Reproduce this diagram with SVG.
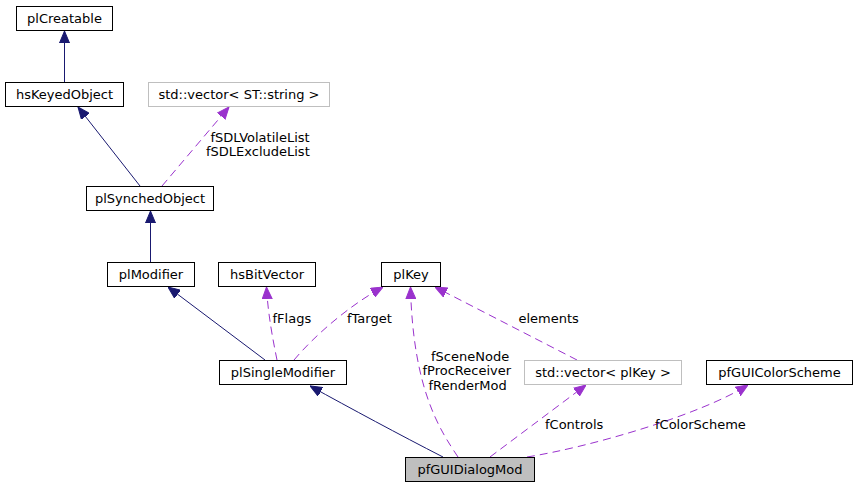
<svg xmlns="http://www.w3.org/2000/svg" width="857" height="489" viewBox="0 0 857 489">
<style>
.n rect{fill:#fff;stroke:#000;stroke-width:1}
.n.g rect{stroke:#bfbfbf}
.n.m rect{fill:#bfbfbf}
text{font-family:"DejaVu Sans","Liberation Sans",sans-serif;font-size:13px;fill:#000}
.n text{text-anchor:middle}
.inh{fill:none;stroke:#191970;stroke-width:1}
.use{fill:none;stroke:#9a32cd;stroke-width:1;stroke-dasharray:8,5}
</style>
<defs>
<marker id="an" markerUnits="userSpaceOnUse" viewBox="0 -5.5 12 11" refX="12" refY="0" markerWidth="12" markerHeight="11" orient="auto">
<path d="M0,-5 L12,0 L0,5 z" fill="#191970" stroke="#191970" stroke-width="1"/>
</marker>
<marker id="ap" markerUnits="userSpaceOnUse" viewBox="0 -5.5 12 11" refX="12" refY="0" markerWidth="12" markerHeight="11" orient="auto">
<path d="M0,-5 L12,0 L0,5 z" fill="#9a32cd" stroke="#9a32cd" stroke-width="1"/>
</marker>
</defs>
<g id="connectors">
<path class="inh" d="M64.5,82 L64.5,31" marker-end="url(#an)"/>
<path class="inh" d="M140,186 L78,107" marker-end="url(#an)"/>
<path class="inh" d="M150.5,262 L150.5,211" marker-end="url(#an)"/>
<path class="inh" d="M265,360 L168,287" marker-end="url(#an)"/>
<path class="inh" d="M443,457 C 400,435 350,408 310,386" marker-end="url(#an)"/>
<path class="use" d="M162,186 L229,107" marker-end="url(#ap)"/>
<path class="use" d="M277,360 C 273,340 268,315 266.5,287" marker-end="url(#ap)"/>
<path class="use" d="M294,360 C 315,335 350,305 383,287" marker-end="url(#ap)"/>
<path class="use" d="M458,457 C 440,430 413,390 410.5,287" marker-end="url(#ap)"/>
<path class="use" d="M577,360 L435,287" marker-end="url(#ap)"/>
<path class="use" d="M490,457 L586,385" marker-end="url(#ap)"/>
<path class="use" d="M527,457 C 590,447 700,415 748,385" marker-end="url(#ap)"/>
<text x="210.5" y="142">fSDLVolatileList</text>
<text x="206" y="156">fSDLExcludeList</text>
<text x="272.5" y="323">fFlags</text>
<text x="347" y="323">fTarget</text>
<text x="518.5" y="323">elements</text>
<text x="431" y="360.5">fSceneNode</text>
<text x="422.5" y="375">fProcReceiver</text>
<text x="428.5" y="389.5">fRenderMod</text>
<text x="545" y="429">fControls</text>
<text x="655" y="429">fColorScheme</text>
</g>
<g id="plCreatable" class="n"><rect x="16.5" y="6.5" width="96" height="24"/><text x="64.5" y="22.5">plCreatable</text></g>
<g id="hsKeyedObject" class="n"><rect x="5.5" y="82.5" width="118" height="24"/><text x="64.5" y="98.5">hsKeyedObject</text></g>
<g id="stdVectorSTString" class="n g"><rect x="148.5" y="82.5" width="181" height="24"/><text x="239" y="98.5">std::vector&lt; ST::string &gt;</text></g>
<g id="plSynchedObject" class="n"><rect x="86.5" y="186.5" width="127" height="24"/><text x="150" y="202.5">plSynchedObject</text></g>
<g id="plModifier" class="n"><rect x="107.5" y="262.5" width="87" height="24"/><text x="151" y="278.5">plModifier</text></g>
<g id="hsBitVector" class="n"><rect x="218.5" y="262.5" width="97" height="24"/><text x="267" y="278.5">hsBitVector</text></g>
<g id="plKey" class="n"><rect x="381.5" y="262.5" width="59" height="24"/><text x="411" y="278.5">plKey</text></g>
<g id="plSingleModifier" class="n"><rect x="219.5" y="360.5" width="127" height="24"/><text x="283" y="376.5">plSingleModifier</text></g>
<g id="stdVectorPlKey" class="n g"><rect x="524.5" y="360.5" width="157" height="24"/><text x="603" y="376.5">std::vector&lt; plKey &gt;</text></g>
<g id="pfGUIColorScheme" class="n"><rect x="706.5" y="360.5" width="146" height="24"/><text x="779.5" y="376.5">pfGUIColorScheme</text></g>
<g id="pfGUIDialogMod" class="n m"><rect x="405.5" y="457.5" width="129" height="24"/><text x="470" y="473.5">pfGUIDialogMod</text></g>
</svg>
